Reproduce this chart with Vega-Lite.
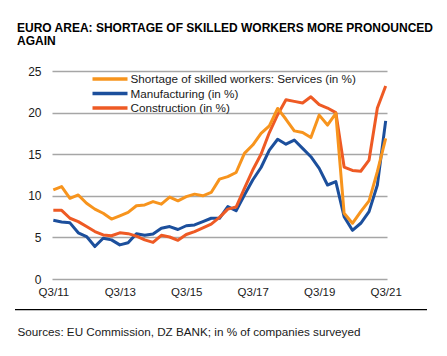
{
  "$schema": "https://vega.github.io/schema/vega-lite/v6.json",
  "width": 412,
  "height": 208,
  "autosize": {"type": "none"},
  "padding": {"left": 15, "top": 71, "right": 20, "bottom": 77},
  "background": "white",
  "config": {
    "font": "Liberation Sans",
    "view": {"stroke": null}
  },
  "title": {
    "text": ["EURO AREA: SHORTAGE OF SKILLED WORKERS MORE PRONOUNCED", "AGAIN"],
    "anchor": "start",
    "frame": "group",
    "font": "Liberation Sans",
    "fontSize": 12,
    "fontWeight": "bold",
    "color": "#000000",
    "lineHeight": 12.7,
    "offset": 17,
    "dx": 2
  },
  "data": {
    "values": [
      {"q": "Q3/11", "Services": 10.7, "Manufacturing": 7.05, "Construction": 8.25},
      {"q": "Q4/11", "Services": 11.1, "Manufacturing": 6.85, "Construction": 8.25},
      {"q": "Q1/12", "Services": 9.7, "Manufacturing": 6.75, "Construction": 7.3},
      {"q": "Q2/12", "Services": 10.1, "Manufacturing": 5.55, "Construction": 6.9},
      {"q": "Q3/12", "Services": 9.1, "Manufacturing": 5.1, "Construction": 6.3},
      {"q": "Q4/12", "Services": 8.4, "Manufacturing": 3.9, "Construction": 5.7},
      {"q": "Q1/13", "Services": 7.9, "Manufacturing": 4.9, "Construction": 5.3},
      {"q": "Q2/13", "Services": 7.2, "Manufacturing": 4.7, "Construction": 5.2},
      {"q": "Q3/13", "Services": 7.6, "Manufacturing": 4.1, "Construction": 5.55},
      {"q": "Q4/13", "Services": 8.0, "Manufacturing": 4.35, "Construction": 5.45},
      {"q": "Q1/14", "Services": 8.8, "Manufacturing": 5.45, "Construction": 5.15},
      {"q": "Q2/14", "Services": 8.9, "Manufacturing": 5.25, "Construction": 4.7},
      {"q": "Q3/14", "Services": 9.3, "Manufacturing": 5.4, "Construction": 4.4},
      {"q": "Q4/14", "Services": 9.0, "Manufacturing": 6.1, "Construction": 5.25},
      {"q": "Q1/15", "Services": 9.85, "Manufacturing": 6.3, "Construction": 5.05},
      {"q": "Q2/15", "Services": 9.4, "Manufacturing": 5.95, "Construction": 4.65},
      {"q": "Q3/15", "Services": 9.9, "Manufacturing": 6.4, "Construction": 5.35},
      {"q": "Q4/15", "Services": 10.2, "Manufacturing": 6.5, "Construction": 5.7},
      {"q": "Q1/16", "Services": 10.0, "Manufacturing": 6.9, "Construction": 6.15},
      {"q": "Q2/16", "Services": 10.4, "Manufacturing": 7.3, "Construction": 6.6},
      {"q": "Q3/16", "Services": 12.0, "Manufacturing": 7.3, "Construction": 7.4},
      {"q": "Q4/16", "Services": 12.3, "Manufacturing": 8.7, "Construction": 8.4},
      {"q": "Q1/17", "Services": 12.8, "Manufacturing": 8.2, "Construction": 8.65},
      {"q": "Q2/17", "Services": 15.1, "Manufacturing": 10.1, "Construction": 10.9},
      {"q": "Q3/17", "Services": 16.1, "Manufacturing": 11.9, "Construction": 13.1},
      {"q": "Q4/17", "Services": 17.5, "Manufacturing": 13.4, "Construction": 15.0},
      {"q": "Q1/18", "Services": 18.4, "Manufacturing": 15.5, "Construction": 17.6},
      {"q": "Q2/18", "Services": 20.5, "Manufacturing": 16.8, "Construction": 19.75},
      {"q": "Q3/18", "Services": 19.2, "Manufacturing": 16.2, "Construction": 21.55},
      {"q": "Q4/18", "Services": 17.8, "Manufacturing": 16.7, "Construction": 21.35},
      {"q": "Q1/19", "Services": 17.6, "Manufacturing": 15.7, "Construction": 21.15},
      {"q": "Q2/19", "Services": 17.0, "Manufacturing": 14.7, "Construction": 21.9},
      {"q": "Q3/19", "Services": 19.7, "Manufacturing": 13.3, "Construction": 20.95},
      {"q": "Q4/19", "Services": 18.5, "Manufacturing": 11.3, "Construction": 20.55},
      {"q": "Q1/20", "Services": 19.9, "Manufacturing": 11.7, "Construction": 20.0},
      {"q": "Q2/20", "Services": 7.9, "Manufacturing": 7.5, "Construction": 13.45},
      {"q": "Q3/20", "Services": 6.7, "Manufacturing": 5.85, "Construction": 13.05},
      {"q": "Q4/20", "Services": 8.1, "Manufacturing": 6.7, "Construction": 12.95},
      {"q": "Q1/21", "Services": 9.4, "Manufacturing": 8.1, "Construction": 14.3},
      {"q": "Q2/21", "Services": 12.9, "Manufacturing": 11.3, "Construction": 20.55},
      {"q": "Q3/21", "Services": 16.9, "Manufacturing": 19.0, "Construction": 23.2}
    ]
  },
  "layer": [
    {
      "transform": [
        {"fold": ["Manufacturing", "Construction", "Services"], "as": ["s", "v"]}
      ],
      "mark": {"type": "line", "strokeWidth": 3, "strokeJoin": "round"},
      "encoding": {
        "x": {
          "field": "q",
          "type": "ordinal",
          "sort": null,
          "scale": {"type": "point", "range": [37, 372], "padding": 0.16},
          "axis": {
            "values": ["Q3/11", "Q3/13", "Q3/15", "Q3/17", "Q3/19", "Q3/21"],
            "labelAngle": 0,
            "ticks": false,
            "domain": false,
            "grid": false,
            "labelFontSize": 11.5,
            "labelColor": "#1a1a1a",
            "labelPadding": 7,
            "title": "Sources: EU Commission, DZ BANK; in % of companies surveyed",
            "titleFontSize": 11.7,
            "titleFontWeight": "normal",
            "titleColor": "#1a1a1a",
            "titleAlign": "left",
            "titleAnchor": "start",
            "titleBaseline": "alphabetic",
            "titleX": 2,
            "titleY": 56
          }
        },
        "y": {
          "field": "v",
          "type": "quantitative",
          "scale": {"domain": [0, 25], "nice": false, "zero": false},
          "axis": {
            "values": [0, 5, 10, 15, 20, 25],
            "offset": -37,
            "domain": false,
            "ticks": false,
            "grid": true,
            "gridColor": "#a6a6a6",
            "gridWidth": 1.3,
            "labelFontSize": 12,
            "labelColor": "#1a1a1a",
            "labelPadding": 11,
            "title": null
          }
        },
        "color": {
          "field": "s",
          "type": "nominal",
          "scale": {
            "domain": ["Services", "Manufacturing", "Construction"],
            "range": ["#f7941d", "#1c4f9c", "#ee5a24"]
          },
          "legend": {
            "title": null,
            "orient": "none",
            "legendX": 88,
            "legendY": 1,
            "padding": 0,
            "symbolType": "M-3.5,0H3.5",
            "symbolSize": 100,
            "symbolStrokeWidth": 3.5,
            "symbolFillColor": "transparent",
            "labelOffset": 13.5,
            "labelFontSize": 11.7,
            "labelLimit": 0,
            "labelColor": "#1a1a1a",
            "rowPadding": 0.5,
            "labelExpr": "datum.label == 'Services' ? 'Shortage of skilled workers: Services (in %)' : datum.label + ' (in %)'"
          }
        }
      }
    },
    {
      "data": {"values": [{}]},
      "mark": {"type": "rule", "color": "#000000", "strokeWidth": 1.2},
      "encoding": {
        "y": {"datum": -3.69}
      }
    }
  ]
}
